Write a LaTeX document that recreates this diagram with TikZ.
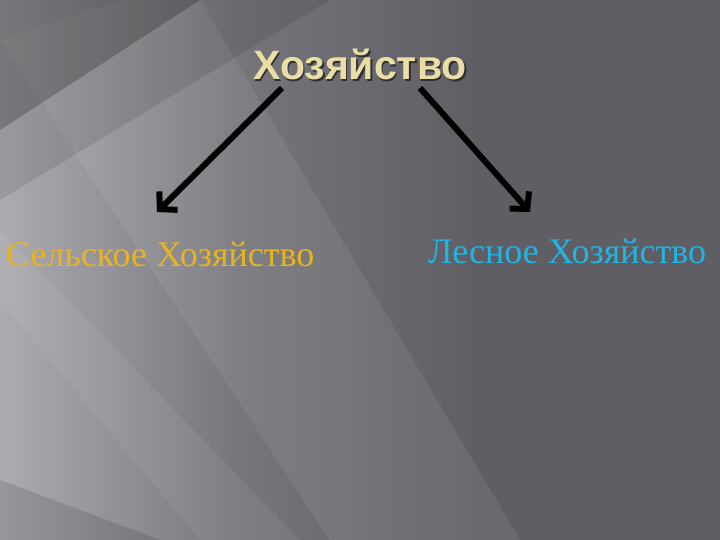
\documentclass[tikz,border=0pt]{standalone}
\usepackage{fontspec}
\setmainfont{Liberation Serif}
\newfontfamily\titlefont{Liberation Sans}
\usetikzlibrary{arrows.meta,fadings}
\definecolor{bgbase}{HTML}{5E5E64}
\definecolor{bglight}{HTML}{ABABB1}
\definecolor{titlecol}{HTML}{E9DFA6}
\definecolor{leftcol}{HTML}{E8B420}
\definecolor{rightcol}{HTML}{22B4E2}
\tikzset{
  arrowline/.style={line width=6pt, black, -{Straight Barb[length=12pt,width=26pt,line width=6pt]}},
  labeltext/.style={font=\fontsize{36}{36}\selectfont, inner sep=0pt, anchor=base west},
  titletext/.style={font=\titlefont\bfseries\fontsize{41}{41}\selectfont, inner sep=0pt, anchor=base}
}
\begin{document}
\begin{tikzpicture}[x=1pt,y=-1pt]
\useasboundingbox (0,0) rectangle (720,540);
% background
\fill[bgbase] (0,0) rectangle (720,540);
\shade[left color=bglight, right color=bgbase, middle color=bgbase!70!bglight] (0,0) rectangle (480,540);
\fill[bgbase] (480,0) rectangle (720,540);
\begin{scope}
\clip (0,0) rectangle (720,540);
\fill[white, opacity=0.07] (0,40) -- (120,0) -- (200,0) -- (520,540) -- (330,540) -- cycle;
\fill[white, opacity=0.06] (0,230) -- (0,300) -- (200,540) -- (300,540) -- cycle;
\fill[black, opacity=0.22] (0,0) -- (200,0) -- (0,130) -- cycle;
\fill[black, opacity=0.10] (0,0) -- (330,0) -- (0,200) -- cycle;
\fill[black, opacity=0.12] (0,480) -- (160,540) -- (0,540) -- cycle;
\end{scope}
% title
\node[titletext, text=black!85, opacity=0.85] at (361.5,81.5) {Хозяйство};
\node[titletext, text=titlecol] (title) at (360,80) {Хозяйство};
% labels
\node[labeltext, text=leftcol] (agri) at (6,266) {Сельское Хозяйство};
\node[labeltext, text=rightcol] (forest) at (428,263) {Лесное Хозяйство};
% arrows
\coordinate (l1) at (282,88);
\coordinate (l2) at (157,212);
\coordinate (r1) at (420,88);
\coordinate (r2) at (530,212);
\draw[arrowline] (l1) -- (l2);
\draw[arrowline] (r1) -- (r2);
\end{tikzpicture}
\end{document}
